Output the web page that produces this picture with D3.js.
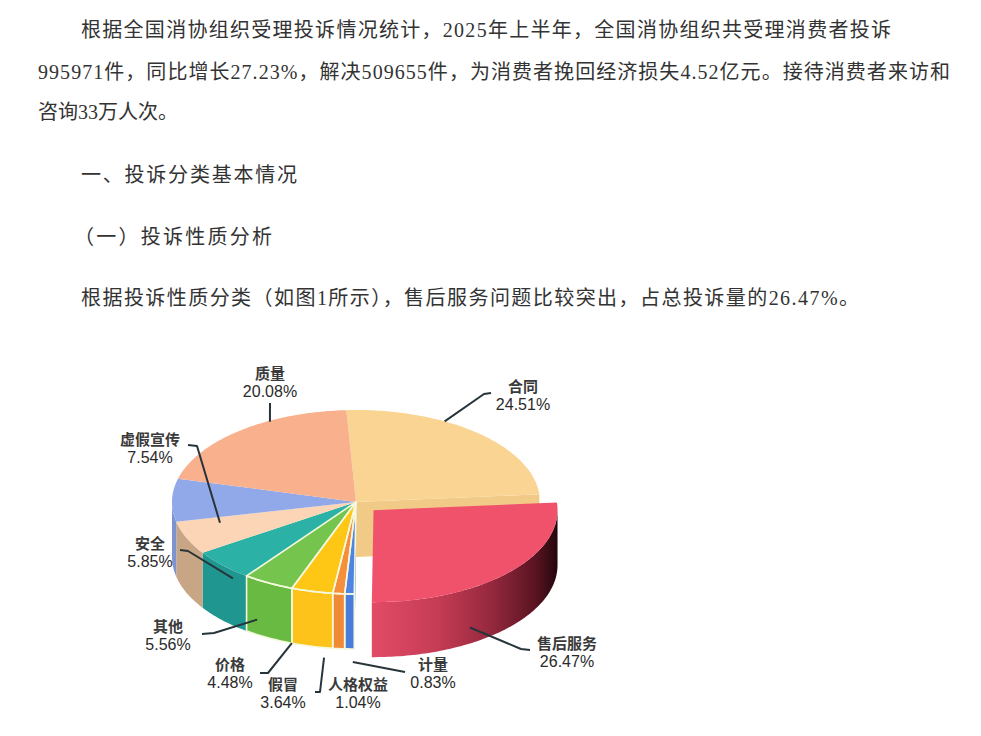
<!DOCTYPE html>
<html><head><meta charset="utf-8">
<script src="https://cdn.jsdelivr.net/npm/d3@7"></script>
<style>body{margin:0;background:#fff;} svg{display:block}</style>
</head><body>
<svg id="c" width="981" height="736"></svg>
<script>
// ---------- data ----------
const categories = ["合同","售后服务","计量","人格权益","假冒","价格","其他","安全","虚假宣传","质量"];
const values = [24.51,26.47,0.83,1.04,3.64,4.48,5.56,5.85,7.54,20.08];
const explodedCategory = "售后服务";
const paragraphLines = [
  "根据全国消协组织受理投诉情况统计，2025年上半年，全国消协组织共受理消费者投诉",
  "995971件，同比增长27.23%，解决509655件，为消费者挽回经济损失4.52亿元。接待消费者来访和",
  "咨询33万人次。"
];
const heading1 = "一、投诉分类基本情况";
const heading2 = "（一）投诉性质分析";
const closingLine = "根据投诉性质分类（如图1所示），售后服务问题比较突出，占总投诉量的26.47%。";

// ---------- styles ----------
const topColors  = ["#F9D492","#F0526B","#4F84E2","#F58F3B","#FEC716","#74C44E","#2BB1A5","#FBD5B5","#91A9E9","#F9B08D"];
const sideColors = ["#F2CA88","#D9455F","#4A7CDC","#F18A35","#FDC31A","#68BA42","#1F968F","#C8A584","#7F93CF","#D89C80"];
const borderedSlices = ["计量","人格权益","假冒","价格"];

// ---------- layout ----------
const W = 981, H = 736;
const cx = 356, cy = 502, rx = 184, ry = 92, depth = 55, explode = 0.13;
const startDeg = -3;
const rad = d => d * Math.PI / 180;

// label layout: first-line centre, leader start/elbow relative to label, target in polar (deg, r, z)
const labelLayout = {
  "质量":   {x:270, y:372, lead:[[0,31]], tgt:[331.8,0.99,0]},
  "合同":   {x:523, y:385, lead:[[-32,8],[-39,9]], tgt:[28.8,1.0,0]},
  "虚假宣传":{x:150, y:438, lead:[[38,7],[47,8]], tgt:[253,0.773,0]},
  "安全":   {x:150, y:542, lead:[[30,8],[38,9]], tgt:[222,1,8]},
  "其他":   {x:168, y:625, lead:[[34,9],[46,8]], tgt:[212.5,1,40]},
  "价格":   {x:230, y:663, lead:[[30,10],[38,10]], tgt:[200.4,1,55]},
  "假冒":   {x:283, y:683, lead:[[32,9],[37,9]], tgt:[190,1,65]},
  "人格权益":{x:358, y:683, lead:null},
  "计量":   {x:433, y:663, lead:[[-28,9]], tgt:[181,1,68]},
  "售后服务":{x:567, y:642, lead:[[-37,8],[-46,7]], tgt:[148.4,1,39], exploded:true}
};

const svg = d3.select("#c");
const defs = svg.append("defs");

// ---------- paragraph text ----------
const textG = svg.append("g")
  .attr("font-family", "'Liberation Serif','Noto Sans CJK SC',serif")
  .attr("font-size", 20).attr("fill", "#333");
const pLines = [
  {t: paragraphLines[0], x: 81, y: 30, len: 810},
  {t: paragraphLines[1], x: 38, y: 72, len: 912},
  {t: paragraphLines[2], x: 38, y: 112, len: 140},
  {t: heading1, x: 81, y: 175, len: 216},
  {t: heading2, x: 74, y: 237, len: 198},
  {t: closingLine, x: 81, y: 298, len: 778}
];
pLines.forEach(l => {
  const t = textG.append("text").attr("x", l.x).attr("y", l.y)
    .attr("dominant-baseline", "central").text(l.t);
  if (l.len) t.attr("textLength", l.len).attr("lengthAdjust", "spacing");
});

// ---------- pie geometry ----------
const pie = d3.pie().sort(null).value(d => d.v)
  .startAngle(rad(startDeg)).endAngle(rad(startDeg + 360));
const data = categories.map((c, i) => ({c, v: values[i], i}));
const arcs = pie(data);

function offsetOf(a) {
  if (a.data.c !== explodedCategory) return [0, 0];
  const m = (a.startAngle + a.endAngle) / 2;
  return [explode * rx * Math.sin(m), -explode * ry * Math.cos(m)];
}
function proj(ang, r, z, off) {
  return [cx + off[0] + r * rx * Math.sin(ang), cy + off[1] - r * ry * Math.cos(ang) + z];
}
function rim(a0, a1, z, off) {
  const n = Math.max(2, Math.ceil((a1 - a0) / rad(1)) + 1);
  return d3.range(n).map(k => proj(a0 + (a1 - a0) * k / (n - 1), 1, z, off));
}
const line = d3.line();

function topPath(a) {
  const off = offsetOf(a);
  return line([proj(0, 0, 0, off), ...rim(a.startAngle, a.endAngle, 0, off)]) + "Z";
}
function wallPath(a) {
  const off = offsetOf(a);
  const s = Math.max(a.startAngle, Math.PI / 2), e = Math.min(a.endAngle, 3 * Math.PI / 2);
  if (e <= s) return null;
  return line([...rim(s, e, 0, off), ...rim(s, e, depth, off).reverse()]) + "Z";
}
function cutPath(a, ang) {
  const off = offsetOf(a);
  return line([proj(0,0,0,off), proj(ang,1,0,off), proj(ang,1,depth,off), proj(0,0,depth,off)]) + "Z";
}

const pieG = svg.append("g");
const mainArcs = arcs.filter(a => a.data.c !== explodedCategory);
const expArcs = arcs.filter(a => a.data.c === explodedCategory);
const expIdx = arcs.findIndex(a => a.data.c === explodedCategory);

// cut faces revealed by exploded slice
arcs.forEach((a, k) => {
  if (a.data.c === explodedCategory) return;
  const n = arcs.length;
  if ((k + 1) % n === expIdx && Math.sin(a.endAngle) > 0)
    pieG.append("path").attr("d", cutPath(a, a.endAngle)).attr("fill", sideColors[a.data.i]);
  if ((k - 1 + n) % n === expIdx && Math.sin(a.startAngle) < 0)
    pieG.append("path").attr("d", cutPath(a, a.startAngle)).attr("fill", sideColors[a.data.i]);
});

// walls of main pie
mainArcs.forEach(a => {
  const p = wallPath(a);
  if (p) pieG.append("path").attr("d", p).attr("fill", sideColors[a.data.i]);
});
// tops of main pie
mainArcs.forEach(a => {
  pieG.append("path").attr("d", topPath(a)).attr("fill", topColors[a.data.i]);
});
// white separators
mainArcs.filter(a => borderedSlices.includes(a.data.c)).forEach(a => {
  const p = wallPath(a);
  if (p) pieG.append("path").attr("d", p).attr("fill", "none")
    .attr("stroke", "#f4f8dc").attr("stroke-width", 1.6).attr("stroke-linejoin", "round");
  pieG.append("path").attr("d", topPath(a)).attr("fill", "none")
    .attr("stroke", "#f4f8dc").attr("stroke-width", 1.6).attr("stroke-linejoin", "round");
});

// exploded slice
expArcs.forEach(a => {
  const off = offsetOf(a);
  const s = Math.max(a.startAngle, Math.PI / 2), e = Math.min(a.endAngle, 3 * Math.PI / 2);
  const pL = proj(e, 1, 0, off), pR = proj(s, 1, 0, off);
  const g = defs.append("linearGradient").attr("id", "expGrad")
    .attr("gradientUnits", "userSpaceOnUse")
    .attr("x1", pL[0]).attr("x2", pR[0]).attr("y1", 0).attr("y2", 0);
  [[0, "#E24B66"], [0.35, "#C63C55"], [0.65, "#94283D"], [0.88, "#5A1422"], [1, "#24060C"]]
    .forEach(([o, c]) => g.append("stop").attr("offset", o).attr("stop-color", c));
  const p = wallPath(a);
  if (p) pieG.append("path").attr("d", p).attr("fill", "url(#expGrad)");
  pieG.append("path").attr("d", topPath(a)).attr("fill", topColors[a.data.i]);
});

// ---------- labels ----------
const labG = svg.append("g");
arcs.forEach(a => {
  const L = labelLayout[a.data.c];
  if (L.lead) {
    const off = L.exploded ? offsetOf(a) : [0, 0];
    const pts = L.lead.map(([dx, dy]) => [L.x + dx, L.y + dy]);
    pts.push(proj(rad(L.tgt[0]), L.tgt[1], L.tgt[2], off));
    labG.append("path").attr("d", line(pts)).attr("fill", "none")
      .attr("stroke", "#27343a").attr("stroke-width", 2).attr("stroke-linejoin", "round");
  }
  labG.append("text").attr("x", L.x).attr("y", L.y)
    .attr("text-anchor", "middle").attr("dominant-baseline", "central")
    .attr("font-family", "'Noto Sans CJK SC',sans-serif").attr("font-weight", 700)
    .attr("font-size", 15).attr("fill", "#3a3a3a").text(a.data.c);
  labG.append("text").attr("x", L.x).attr("y", L.y + 19)
    .attr("text-anchor", "middle").attr("dominant-baseline", "central")
    .attr("font-family", "'Liberation Sans',Arial,sans-serif")
    .attr("font-size", 16).attr("fill", "#2a2a2a").text(d3.format(".2f")(a.data.v) + "%");
});
</script>
</body></html>
